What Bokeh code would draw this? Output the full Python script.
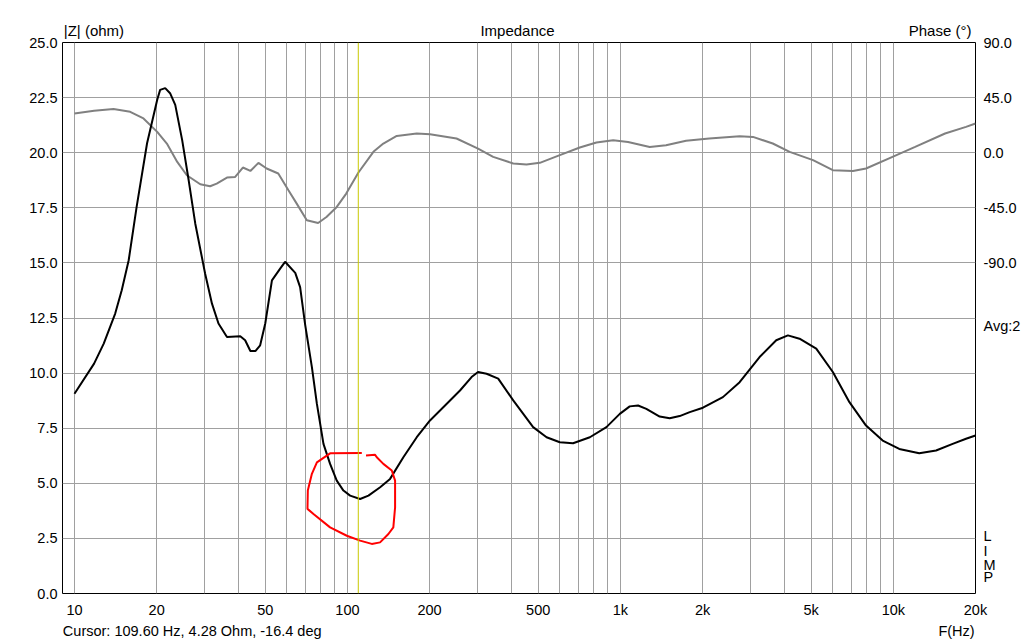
from bokeh.plotting import figure
from bokeh.models import Range1d, LinearAxis, FixedTicker, Span, NumeralTickFormatter, LinearScale
from bokeh.embed import file_html
from bokeh.resources import INLINE

# ---------------- data ----------------
imp_freq = [10, 11.8, 12.8, 14.1, 14.9, 15.8, 16.9, 18.45, 20.1, 20.6, 21.5, 22.4, 23.4, 24.8,
            26.2, 27.7, 30.1, 31.9, 33.7, 36.2, 40.5, 42.2, 44.1, 46, 47.9, 50, 52.9, 56.7, 59.1,
            64.4, 67.1, 70, 74.1, 77.3, 81.7, 86.4, 91.4, 96.7, 102.3, 111.3, 119.4, 131.8, 143.3,
            160.3, 179.5, 200.7, 224.5, 258.5, 285, 301, 323.5, 356.8, 405, 479, 536.6, 600, 671,
            773, 889, 995, 1082, 1161, 1245, 1393, 1516, 1649, 1795, 2007, 2375, 2735, 3236, 3724,
            4110, 4532, 5219, 6003, 6905, 7943, 9140, 10512, 12445, 14343, 16497, 18462, 20000]
imp_ohm = [9.06, 10.43, 11.34, 12.7, 13.76, 15.12, 17.55, 20.43, 22.4, 22.85, 22.93, 22.7, 22.17,
           20.58, 18.76, 16.79, 14.52, 13.15, 12.25, 11.64, 11.67, 11.49, 11.0, 11.0, 11.26, 12.25,
           14.21, 14.74, 15.05, 14.55, 13.9, 12.2, 10.27, 8.6, 6.79, 5.88, 5.12, 4.67, 4.44, 4.29,
           4.44, 4.82, 5.2, 6.18, 7.09, 7.85, 8.45, 9.21, 9.82, 10.05, 9.97, 9.75, 8.76, 7.55, 7.09,
           6.86, 6.82, 7.09, 7.55, 8.15, 8.49, 8.53, 8.38, 8.03, 7.95, 8.05, 8.23, 8.43, 8.91, 9.59,
           10.73, 11.49, 11.71, 11.56, 11.11, 10.05, 8.68, 7.62, 6.94, 6.56, 6.36, 6.49, 6.79, 7.02,
           7.17]

ph_freq = [10, 11.8, 13.9, 16.0, 17.9, 20.1, 21.8, 23.8, 25.8, 28.9, 31.4, 33.2, 36.2, 38.8, 41.4,
           44.1, 47.2, 50.6, 55.8, 60.8, 65.2, 71, 78.1, 83.8, 91.4, 99, 109.6, 124.5, 135.4, 151.6,
           179.5, 200.7, 251, 301, 342, 405, 453, 507, 600, 710, 817, 941, 1067, 1281, 1470, 1740,
           2116, 2735, 3060, 3617, 4170, 5080, 6003, 7115, 7943, 9930, 12020, 15470, 18462, 20000]
ph_deg = [32.1, 34.2, 35.6, 33.4, 28, 17, 7.5, -7.5, -18.4, -25.8, -27.4, -25.2, -20.3, -19.8, -12.1,
          -14.9, -8.3, -12.9, -17, -30.7, -41.6, -55.2, -57.4, -52.5, -44.3, -33.4, -16.4, 0.7, 7.5,
          13.7, 15.7, 15.1, 11.6, 3.4, -3.4, -8.8, -9.7, -8.3, -2, 4.2, 8.3, 10.2, 8.8, 4.7, 6.1,
          9.7, 11.6, 13.5, 12.9, 7.5, 0.7, -6.1, -14.3, -14.9, -12.9, -3.4, 4.7, 15.7, 21.1, 23.9]

circle_freq = [117, 126.3, 128.1, 135.4, 145.4, 149.5, 149.5, 147.3, 141.3, 131.7, 122.8, 111.3,
               99.5, 86.4, 75.1, 71.4, 71.6, 74.1, 77.3, 86.4, 112.9]
circle_ohm = [6.26, 6.29, 6.18, 5.88, 5.58, 5.12, 3.91, 3.0, 2.7, 2.32, 2.25, 2.4, 2.62, 3.0, 3.61,
              3.84, 4.67, 5.43, 5.95, 6.36, 6.38]

cursor_freq = 109.6

x_ticks = [10, 20, 50, 100, 200, 500, 1000, 2000, 5000, 10000, 20000]
x_labels = ["10", "20", "50", "100", "200", "500", "1k", "2k", "5k", "10k", "20k"]
grid_x = [m * d for d in (10, 100, 1000, 10000) for m in range(1, 10) if m * d <= 20000]
y_ticks = [0, 2.5, 5, 7.5, 10, 12.5, 15, 17.5, 20, 22.5, 25]
phase_ticks = [-90, -45, 0, 45, 90]

# header / footer / side texts
top_texts = ["|Z| (ohm)", "Impedance", "Phase (°)"]
bottom_texts = ["Cursor: 109.60 Hz, 4.28 Ohm, -16.4 deg", "F(Hz)"]
side_texts = ["Avg:2", "L", "I", "M", "P"]

FONT = "Liberation Sans"
FS = "14.5px"
FS_TOP = "15px"
W, H = 1023, 642
BL, BR, BT, BB = 62, 46, 42, 49
FW = W - BL - BR
top_pos = [31.5, 456, 879.5]        # text centres, px from frame left
bottom_pos = [130, 896]
side_pos = [-141.9, -313.0, -325.4, -336.7, -346.9]   # on the phase scale

p = figure(width=W, height=H, x_axis_type="log",
           x_range=Range1d(9.04, 20000), y_range=Range1d(0, 25),
           output_backend="svg", toolbar_location=None,
           min_border_left=BL, min_border_right=BR, min_border_top=BT, min_border_bottom=BB)
p.extra_y_ranges = {"phase": Range1d(-360, 90)}
p.extra_y_scales = {"phase": LinearScale()}
p.extra_x_ranges = {"px": Range1d(0, FW)}
p.extra_x_scales = {"px": LinearScale()}

p.background_fill_color = "white"
p.border_fill_color = "white"
p.outline_line_color = "black"
p.outline_line_width = 1
p.outline_line_alpha = 1

# grids
p.xgrid.ticker = FixedTicker(ticks=grid_x)
p.ygrid.ticker = FixedTicker(ticks=y_ticks)
for g in (p.xgrid, p.ygrid):
    g.grid_line_color = "#a0a0a0"
    g.grid_line_width = 1
    g.grid_line_alpha = 1

def style_axis(ax, standoff, size=FS):
    ax.axis_line_color = None
    ax.major_tick_line_color = None
    ax.minor_tick_line_color = None
    ax.major_tick_out = 0
    ax.major_tick_in = 0
    ax.minor_tick_out = 0
    ax.minor_tick_in = 0
    ax.major_label_text_font = FONT
    ax.major_label_text_font_size = size
    ax.major_label_text_color = "black"
    ax.major_label_standoff = standoff

xa = p.xaxis[0]
xa.ticker = FixedTicker(ticks=x_ticks)
xa.major_label_overrides = {t: l for t, l in zip(x_ticks, x_labels)}
style_axis(xa, 8)

ya = p.yaxis[0]
ya.ticker = FixedTicker(ticks=y_ticks)
ya.formatter = NumeralTickFormatter(format="0.0")
style_axis(ya, 5)

ra = LinearAxis(y_range_name="phase", ticker=FixedTicker(ticks=phase_ticks + side_pos),
                formatter=NumeralTickFormatter(format="0.0"))
ra.major_label_overrides = {v: t for v, t in zip(side_pos, side_texts)}
style_axis(ra, 8)
p.add_layout(ra, "right")

ta = LinearAxis(x_range_name="px", ticker=FixedTicker(ticks=top_pos))
ta.major_label_overrides = {v: t for v, t in zip(top_pos, top_texts)}
style_axis(ta, 4, FS_TOP)
p.add_layout(ta, "above")

ba = LinearAxis(x_range_name="px", ticker=FixedTicker(ticks=bottom_pos))
ba.major_label_overrides = {v: t for v, t in zip(bottom_pos, bottom_texts)}
style_axis(ba, 2)
p.add_layout(ba, "below")

# curves
p.line(ph_freq, ph_deg, y_range_name="phase", line_color="#808080", line_width=2)
p.add_layout(Span(location=cursor_freq, dimension="height", line_color="#c8c800", line_width=1))
p.line(imp_freq, imp_ohm, line_color="black", line_width=2)
p.line(circle_freq, circle_ohm, line_color="#ff0000", line_width=2)

open("out.html", "w").write(file_html(p, INLINE))
